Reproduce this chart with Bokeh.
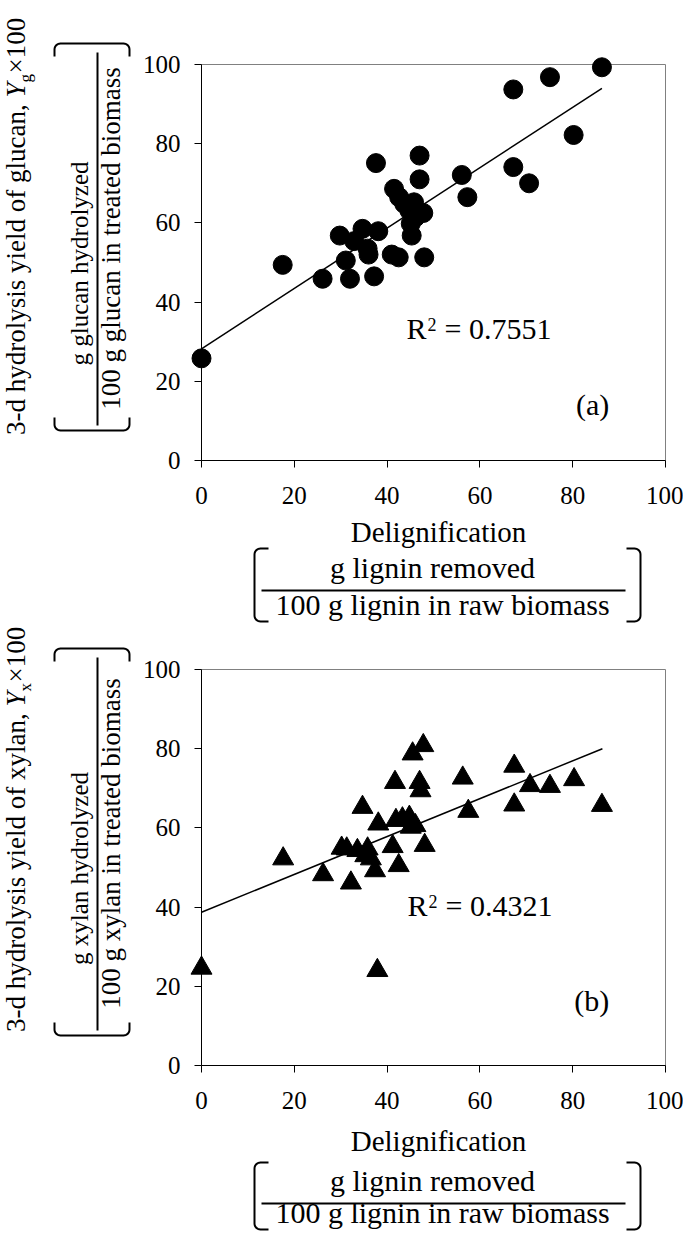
import numpy as np
from bokeh.plotting import figure
from bokeh.models import Range1d, FixedTicker
from bokeh.layouts import column, row
from bokeh.embed import file_html
from bokeh.resources import INLINE
from bokeh.core.properties import value

FONT = "Liberation Serif"
MID = 0.3375  # distance baseline -> middle of text box, in em

# ---------------- data ----------------
axis_ticks = [0, 20, 40, 60, 80, 100]

delig_a = [0.0, 17.5, 26.1, 29.8, 31.1, 32.0, 32.9, 34.7, 35.8, 36.0, 37.6, 37.2,
           38.1, 41.0, 42.5, 41.5, 42.6, 43.7, 44.8, 45.8, 45.1, 45.3, 46.1, 47.0,
           47.0, 47.8, 48.0, 56.1, 57.3, 67.2, 67.2, 70.6, 75.1, 80.2, 86.3]
glucan_yield = [25.8, 49.4, 45.9, 56.8, 50.5, 45.9, 55.4, 58.5, 53.5, 52.0, 75.1, 46.5,
                57.9, 52.0, 51.3, 68.6, 66.5, 64.8, 63.1, 65.2, 59.8, 56.8, 61.4, 77.0,
                71.0, 62.5, 51.3, 72.1, 66.5, 93.7, 74.1, 70.0, 96.8, 82.2, 99.3]
trend_a_x = [0.0, 86.3]
trend_a_y = [28.2, 94.0]
r2_a = "0.7551"

delig_b = [0.0, 37.9, 17.6, 26.2, 32.2, 30.2, 31.3, 33.6, 34.7, 35.8, 35.3, 36.5,
           37.4, 38.1, 41.2, 42.5, 41.7, 41.9, 43.3, 44.8, 45.1, 46.1, 45.5, 47.8,
           47.0, 47.2, 48.1, 56.3, 57.5, 67.4, 67.4, 70.8, 75.1, 80.3, 86.3]
xylan_yield = [24.6, 24.0, 52.2, 48.2, 46.1, 54.9, 54.7, 54.3, 65.2, 54.7, 53.0, 52.2,
               49.2, 61.0, 55.3, 50.5, 71.5, 61.9, 62.3, 62.7, 60.2, 60.6, 78.7, 80.8,
               71.5, 69.4, 55.6, 72.6, 64.2, 75.6, 65.8, 70.7, 70.5, 72.2, 65.7]
trend_b_x = [0.0, 86.4]
trend_b_y = [38.7, 80.0]
r2_b = "0.4321"

# ---------------- helpers ----------------
PX_X = 464 / 100.0   # frame px per x unit
PX_Y = 396 / 100.0   # frame px per y unit


def make_decor(px0, py0, w, h):
    f = figure(width=w, height=h, x_range=Range1d(px0, px0 + w),
               y_range=Range1d(-(py0 + h), -py0), output_backend="svg",
               toolbar_location=None, tools="", x_axis_location=None, y_axis_location=None,
               min_border=0, min_border_left=0, min_border_right=0,
               min_border_top=0, min_border_bottom=0, frame_align=False)
    f.outline_line_color = None
    f.background_fill_color = "white"
    f.border_fill_color = "white"
    for g in f.grid:
        g.visible = False
    return f


def put_text(f, x, y, s, size, align="left", angle=0.0, style="normal"):
    # (x, y) is the baseline point in page coordinates; anchor at text middle
    if angle:
        x = x - MID * size
    else:
        y = y - MID * size
    f.text(x=[x], y=[-y], text=[s], text_font=value(FONT),
           text_font_size=value(f"{size}px"), text_align=align,
           text_baseline="middle", angle=angle, text_color="black",
           text_font_style=style)


def bracket_pts(x, y0, y1, d, arm=14, r=6):
    pts = [(x + d * arm, y0)]
    for t in np.linspace(0, np.pi / 2, 8):
        pts.append((x + d * r - d * r * np.sin(t), y0 + r - r * np.cos(t)))
    for t in np.linspace(np.pi / 2, 0, 8):
        pts.append((x + d * r - d * r * np.sin(t), y1 - r + r * np.cos(t)))
    pts.append((x + d * arm, y1))
    return pts


def vbracket(f, x, y0, y1, d):
    pts = bracket_pts(x, y0, y1, d)
    f.line([p[0] for p in pts], [-p[1] for p in pts], line_color="black", line_width=2)


def hbracket(f, y, x0, x1, d):
    pts = bracket_pts(y, x0, x1, d, arm=13)
    f.line([p[1] for p in pts], [-p[0] for p in pts], line_color="black", line_width=2)


def left_decor(py0, h, off, off1, word, sub):
    f = make_decor(8, py0, 136, h)
    ang = np.pi / 2
    yY = 97 + off1
    bx = 33
    put_text(f, bx, yY, f"3-d hydrolysis yield of {word}, ", 27, "right", ang)
    put_text(f, bx, yY, "Y", 27, "left", ang, "italic")
    put_text(f, bx + 6, yY - 15, sub, 17, "left", ang)
    put_text(f, bx, yY - 24, "\u00d7100", 27, "left", ang)
    put_text(f, 95, 263 + off, f"g {word} hydrolyzed", 25, "center", ang)
    f.line([105, 105], [-(52 + off), -(425 + off)], line_color="black", line_width=2)
    put_text(f, 128, 238 + off, f"100 g {word} in treated biomass", 27, "center", ang)
    hbracket(f, 43 + off, 62, 137, 1)
    hbracket(f, 430 + off, 62, 137, -1)
    return f


def bottom_decor(py0, h, delig_base, top, num_base, line_y, den_base, bottom):
    f = make_decor(8, py0, 683, h)
    put_text(f, 446, delig_base, "Delignification", 29, "center")
    put_text(f, 440, num_base, "g lignin removed", 30, "center")
    f.line([269, 633], [-line_y, -line_y], line_color="black", line_width=2)
    put_text(f, 450, den_base, "100 g lignin in raw biomass", 30, "center")
    vbracket(f, 262, top, bottom, 1)
    vbracket(f, 648, top, bottom, -1)
    return f


def put_plot_text(p, x, y, s, size, align):
    p.text(x=[x], y=[y + MID * size / PX_Y], text=[s], text_font=value(FONT),
           text_font_size=value(f"{size}px"), text_align=align,
           text_baseline="middle", text_color="black")


def make_plot(xs, ys, marker, msize, tx, ty, r2, r2xy, tag, tagxy, h, mbt):
    p = figure(width=547, height=h, x_range=Range1d(0, 100), y_range=Range1d(0, 100),
               output_backend="svg", toolbar_location=None, tools="",
               min_border_left=65, min_border_right=18, min_border_top=mbt,
               min_border_bottom=h - mbt - 396, frame_align=False)
    p.background_fill_color = "white"
    p.border_fill_color = "white"
    p.outline_line_color = "#808080"
    p.outline_line_width = 1
    p.grid.visible = False
    for ax in (p.xaxis[0], p.yaxis[0]):
        ax.ticker = FixedTicker(ticks=axis_ticks)
        ax.axis_line_color = "black"
        ax.axis_line_width = 1
        ax.major_tick_line_color = "black"
        ax.major_tick_in = 0
        ax.major_tick_out = 7
        ax.minor_tick_line_color = None
        ax.major_label_text_font = FONT
        ax.major_label_text_color = "black"
        ax.major_label_text_font_size = "25px"
    p.yaxis[0].major_label_standoff = 14
    p.xaxis[0].major_label_standoff = 19

    p.line(tx, ty, line_color="black", line_width=1.5)
    p.scatter(xs, ys, marker=marker, size=msize, fill_color="black",
              line_color="black", level="overlay")

    rx, ry = r2xy
    put_plot_text(p, rx, ry, "R", 30, "left")
    put_plot_text(p, rx + 21 / PX_X, ry + 8 / PX_Y, "2", 18, "left")
    put_plot_text(p, rx + 38 / PX_X, ry, "= " + r2, 30, "left")
    put_plot_text(p, tagxy[0], tagxy[1], tag, 30, "center")
    return p


# ---------------- panel (a) ----------------
plot_a = make_plot(delig_a, glucan_yield, "circle", 19, trend_a_x, trend_a_y,
                   r2_a, (44.2, 30.8), "(a)", (84.3, 11.6), 515, 64)
left_a = left_decor(0, 515, 0, 0, "glucan", "g")
bot_a = bottom_decor(515, 109, 541, 548, 577, 590, 614, 621)

# ---------------- panel (b) ----------------
plot_b = make_plot(delig_b, xylan_yield, "triangle", 21, trend_b_x, trend_b_y,
                   r2_b, (44.4, 37.9), "(b)", (84.1, 13.9), 496, 45)
left_b = left_decor(624, 496, 605, 609, "xylan", "x")
bot_b = bottom_decor(1120, 111, 1150, 1162, 1190, 1203, 1222, 1229)

layout = column(row(left_a, plot_a), bot_a, row(left_b, plot_b), bot_b)

open("out.html", "w").write(file_html(layout, INLINE))
